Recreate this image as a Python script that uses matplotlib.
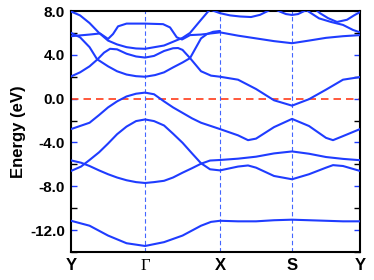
import matplotlib
matplotlib.use("Agg")
import matplotlib.pyplot as plt
from matplotlib.ticker import MultipleLocator

# high-symmetry points along the path
hs_k = [0.0, 0.74, 1.49, 2.21, 2.89]
hs_labels = ["Y", "Γ", "X", "S", "Y"]

# bands: (k, E) lists
band_k1 = [0.0, 0.185, 0.37, 0.555, 0.74, 0.93, 1.115, 1.30, 1.40, 1.49, 1.67, 1.85, 2.03, 2.21, 2.38, 2.55, 2.72, 2.89]
band_e1 = [-11.15, -11.6, -12.5, -13.2, -13.45, -13.1, -12.5, -11.6, -11.25, -11.15, -11.2, -11.2, -11.1, -11.05, -11.1, -11.15, -11.2, -11.2]

band_k2 = [0.0, 0.1, 0.185, 0.28, 0.37, 0.46, 0.555, 0.65, 0.74, 0.83, 0.93, 1.02, 1.115, 1.21, 1.30, 1.39, 1.49, 1.67, 1.85, 2.03, 2.21, 2.38, 2.55, 2.72, 2.89]
band_e2 = [-5.64, -5.85, -6.15, -6.55, -6.9, -7.2, -7.45, -7.62, -7.7, -7.62, -7.5, -7.2, -6.76, -6.35, -5.94, -5.65, -5.6, -5.48, -5.3, -5.0, -4.82, -5.03, -5.33, -5.5, -5.62]

band_k3 = [0.0, 0.1, 0.185, 0.28, 0.37, 0.46, 0.555, 0.65, 0.74, 0.83, 0.93, 1.02, 1.115, 1.21, 1.30, 1.39, 1.49, 1.67, 1.77, 1.85, 2.03, 2.21, 2.38, 2.55, 2.62, 2.72, 2.89]
band_e3 = [-6.6, -6.2, -5.6, -4.9, -4.1, -3.25, -2.55, -2.05, -1.9, -2.05, -2.45, -3.2, -4.03, -5.0, -5.9, -6.45, -6.55, -6.2, -6.1, -6.3, -7.06, -7.36, -6.9, -6.3, -6.07, -6.15, -6.6]

band_k4 = [0.0, 0.185, 0.28, 0.37, 0.46, 0.555, 0.65, 0.74, 0.83, 0.93, 1.02, 1.115, 1.21, 1.30, 1.49, 1.67, 1.77, 1.85, 2.03, 2.21, 2.38, 2.55, 2.62, 2.72, 2.89]
band_e4 = [-2.78, -2.2, -1.5, -0.8, -0.25, 0.2, 0.45, 0.55, 0.4, -0.25, -0.8, -1.3, -1.8, -2.2, -2.78, -3.35, -3.79, -3.65, -2.6, -1.85, -2.5, -3.58, -3.79, -3.42, -2.78]

band_k5 = [0.0, 0.09, 0.185, 0.26, 0.33, 0.39, 0.46, 0.555, 0.65, 0.74, 0.83, 0.93, 1.02, 1.07, 1.115, 1.19, 1.30, 1.40, 1.49, 1.67, 1.85, 2.03, 2.21, 2.38, 2.55, 2.72, 2.89]
band_e5 = [2.03, 2.4, 2.95, 3.55, 4.2, 4.55, 4.5, 4.1, 3.85, 3.75, 3.9, 4.35, 4.6, 4.62, 4.45, 3.7, 2.5, 2.1, 2.0, 1.73, 0.88, -0.15, -0.64, -0.05, 0.82, 1.73, 1.97]

band_k6 = [0.0, 0.09, 0.185, 0.26, 0.37, 0.46, 0.555, 0.65, 0.74, 0.84, 0.93, 1.02, 1.115, 1.19, 1.30, 1.36, 1.42, 1.49]
band_e6 = [6.0, 5.6, 4.7, 3.6, 2.95, 2.5, 2.2, 2.05, 2.0, 2.15, 2.4, 2.85, 3.3, 3.7, 5.5, 5.9, 6.1, 6.18]

band_k7 = [0.0, 0.09, 0.185, 0.28, 0.37, 0.46, 0.555, 0.65, 0.74, 0.93, 1.115, 1.19, 1.30, 1.37, 1.42]
band_e7 = [7.95, 7.6, 6.9, 6.0, 5.3, 4.95, 4.7, 4.58, 4.55, 4.85, 5.55, 6.0, 7.2, 7.95, 8.3]

band_k8 = [0.0, 0.185, 0.29, 0.37, 0.42, 0.47, 0.555, 0.74, 0.92, 0.99, 1.057, 1.11, 1.19, 1.30, 1.49, 1.67, 1.85, 2.03, 2.21, 2.38, 2.55, 2.72, 2.89]
band_e8 = [5.7, 5.85, 5.95, 5.45, 5.9, 6.6, 6.85, 6.85, 6.8, 6.5, 5.6, 5.4, 5.8, 5.85, 6.05, 5.75, 5.5, 5.25, 5.06, 5.3, 5.55, 5.7, 5.8]

# upper bands near the top edge (X-S-Y)
band_k9 = [1.40, 1.49, 1.59, 1.69, 1.80, 1.89, 1.99]
band_e9 = [8.1, 7.8, 7.6, 7.5, 7.45, 7.65, 8.1]

band_k10 = [2.03, 2.09, 2.15, 2.21, 2.27, 2.32, 2.38]
band_e10 = [8.2, 7.94, 7.72, 7.64, 7.72, 7.94, 8.2]

band_k11 = [2.45, 2.49, 2.57, 2.66, 2.76, 2.83, 2.89]
band_e11 = [8.1, 7.8, 7.35, 7.0, 7.2, 7.6, 7.9]

band_k12 = [2.35, 2.48, 2.60, 2.72, 2.82, 2.89]
band_e12 = [8.1, 7.33, 7.0, 6.73, 6.27, 6.05]

fermi = 0.0

band_ks = [band_k1, band_k2, band_k3, band_k4, band_k5, band_k6, band_k7, band_k8,
           band_k9, band_k10, band_k11, band_k12]
band_es = [band_e1, band_e2, band_e3, band_e4, band_e5, band_e6, band_e7, band_e8,
           band_e9, band_e10, band_e11, band_e12]

blue = "#1f3cff"

fig = plt.figure(figsize=(3.74, 2.80), dpi=100)
ax = fig.add_axes([0.19, 0.10, 0.7726, 0.8607])

for kk, ee in zip(band_ks, band_es):
    ax.plot(kk, ee, color=blue, lw=1.5, solid_capstyle="round", zorder=3)

for k in hs_k[1:-1]:
    ax.axvline(k, color="#4466ff", lw=0.8, ls=(0, (4, 2.5)), zorder=1)
ax.axhline(fermi, color="#ff3c1a", lw=1.2, ls=(0, (4.5, 3)), zorder=2)

ax.set_xlim(hs_k[0], hs_k[-1])
ax.set_ylim(-14, 8)

ax.yaxis.set_minor_locator(MultipleLocator(2))
ax.set_yticks([8, 4, 0, -4, -8, -12])
ax.set_yticklabels(["8.0", "4.0", "0.0", "-4.0", "-8.0", "-12.0"])
ax.tick_params(axis="y", which="major", direction="in", length=4, width=1,
               color=blue, left=True, right=True, labelsize=11, pad=4.5)
ax.tick_params(axis="y", which="minor", direction="in", length=4, width=1,
               color="black", left=True, right=True)
for lab in ax.get_yticklabels():
    lab.set_fontweight("bold")
    lab.set_family("Liberation Sans")

ax.set_xticks(hs_k)
ax.set_xticklabels(hs_labels)
ax.tick_params(axis="x", length=0, labelsize=12, pad=4.5)
for lab in ax.get_xticklabels():
    if lab.get_text() == "Γ":
        lab.set_family("Liberation Serif")
        lab.set_fontsize(12)
    else:
        lab.set_family("Liberation Sans")
        lab.set_fontweight("bold")

for s in ax.spines.values():
    s.set_linewidth(1.5)

ax.set_ylabel("Energy (eV)", fontsize=12, fontweight="bold", family="Liberation Sans", labelpad=3)

fig.savefig("out.png", dpi=100)
